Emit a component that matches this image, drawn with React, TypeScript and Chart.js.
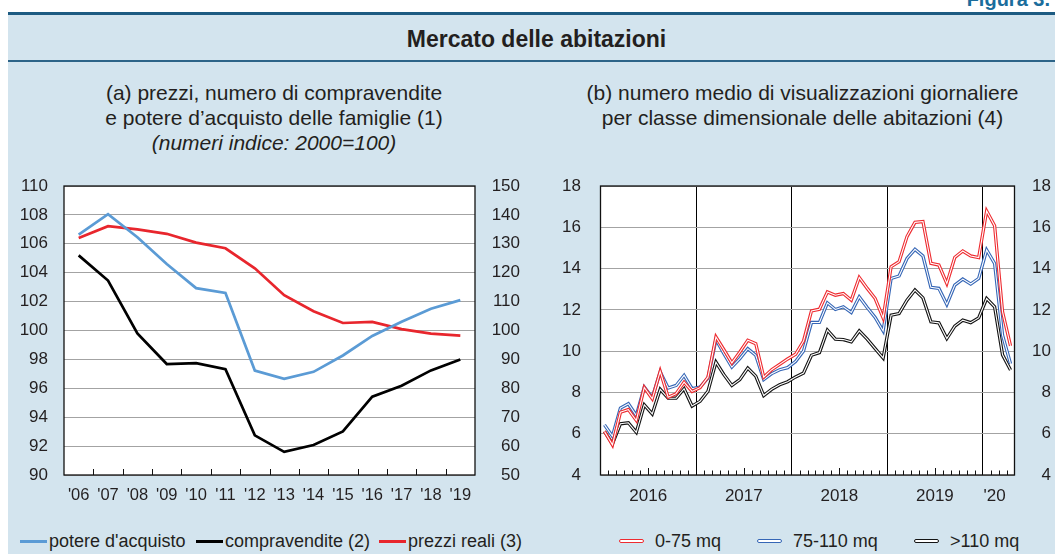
import React, { useEffect, useRef } from 'react';
import { Chart, registerables } from 'chart.js';

Chart.register(...registerables);

const FONT = "'Liberation Sans', Arial, Helvetica, sans-serif";
const TXT = '#231f20';

// ---------- Panel (a) ----------
const yearsA = ["'06", "'07", "'08", "'09", "'10", "'11", "'12", "'13", "'14", "'15", "'16", "'17", "'18", "'19"];
const potereAcquisto = [106.64, 108.05, 106.45, 104.6, 102.93, 102.6, 97.23, 96.65, 97.14, 98.27, 99.62, 100.6, 101.5, 102.1];
const compravendite = [126.0, 117.3, 99.0, 88.4, 88.7, 86.6, 63.7, 58.0, 60.4, 65.1, 77.1, 80.9, 86.2, 90.0];
const prezziReali = [106.4, 107.22, 107.0, 106.69, 106.08, 105.69, 104.3, 102.44, 101.33, 100.52, 100.59, 100.1, 99.78, 99.64];
const yTicksA = [90, 92, 94, 96, 98, 100, 102, 104, 106, 108, 110];
const y1TicksA = [50, 60, 70, 80, 90, 100, 110, 120, 130, 140, 150];

// ---------- Panel (b) ----------
const yearLabelsB = ['2016', '2017', '2018', '2019', "'20"];
const monthsPerYearB = [12, 12, 12, 12, 4];
const mq0_75 = [
  6.11, 5.46, 7.04, 7.17, 6.64, 8.24, 7.69, 9.02, 7.77, 7.94, 8.5, 8.05,
  8.23, 8.74, 10.69, 10.07, 9.43, 9.96, 10.53, 10.36, 8.74, 9.1, 9.36, 9.62,
  9.85, 10.49, 11.95, 12.03, 12.87, 12.71, 12.79, 12.47, 13.57, 13.04, 12.55, 11.61,
  14.09, 14.33, 15.55, 16.24, 16.28, 14.25, 14.17, 13.28, 14.54, 14.85, 14.61, 14.53,
  16.79, 16.08, 11.9, 10.25,
];
const mq75_110 = [
  6.43, 5.88, 7.24, 7.45, 6.88, 8.26, 7.76, 8.99, 8.21, 8.34, 8.83, 8.18,
  8.26, 8.7, 10.57, 9.88, 9.23, 9.64, 10.12, 9.8, 8.62, 8.91, 9.1, 9.2,
  9.5, 10.01, 11.39, 11.39, 12.34, 12.02, 12.15, 11.87, 12.63, 12.11, 11.63, 10.98,
  13.52, 13.64, 14.49, 14.93, 14.61, 13.09, 13.04, 12.26, 13.2, 13.49, 13.25, 13.52,
  14.9, 14.25, 10.77, 9.39,
];
const mq110 = [
  6.11, 5.51, 6.48, 6.53, 6.07, 7.4, 6.96, 8.15, 7.72, 7.72, 8.18, 7.34,
  7.57, 8.06, 9.47, 8.86, 8.34, 8.62, 9.18, 8.79, 7.85, 8.15, 8.37, 8.52,
  8.75, 8.94, 9.8, 9.93, 11.02, 10.58, 10.56, 10.45, 10.98, 10.58, 10.12, 9.67,
  11.74, 11.82, 12.47, 12.96, 12.58, 11.42, 11.37, 10.61, 11.21, 11.5, 11.38, 11.61,
  12.55, 12.15, 9.82, 9.09,
];
const yTicksB = [4, 6, 8, 10, 12, 14, 16, 18];

const tickFont = { family: FONT, size: 17 };

function makeFramePlugin(getMarks: (chart: any) => { x: number; len: number }[]) {
  return {
    id: 'frameAndMarks',
    beforeDraw(chart: any) {
      const { ctx, chartArea: a } = chart;
      ctx.save();
      ctx.fillStyle = '#ffffff';
      ctx.fillRect(a.left, a.top, a.right - a.left, a.bottom - a.top);
      ctx.restore();
    },
    afterDraw(chart: any) {
      const { ctx, chartArea: a } = chart;
      ctx.save();
      ctx.strokeStyle = '#111';
      ctx.lineWidth = 1;
      getMarks(chart).forEach((m) => {
        const x = Math.round(m.x) + 0.5;
        ctx.beginPath();
        ctx.moveTo(x, a.bottom);
        ctx.lineTo(x, a.bottom - m.len);
        ctx.stroke();
      });
      ctx.lineWidth = 1.3;
      ctx.strokeRect(a.left, a.top, a.right - a.left, a.bottom - a.top);
      ctx.restore();
    },
  };
}

// vertical axis: fixed width, no extra label padding in the layout
const fixY = (w: number) => (s: any) => {
  s.width = w;
  s.paddingTop = 0;
  s.paddingBottom = 0;
};
const fixX = (h: number) => (s: any) => {
  s.height = h;
  s.paddingLeft = 0;
  s.paddingRight = 0;
};
// gap between labels and plot via invisible tick marks
const gapGrid = (len: number) => ({ display: true, drawOnChartArea: false, drawTicks: true, tickLength: len, tickColor: 'rgba(0,0,0,0)' });

function ChartA() {
  const ref = useRef<HTMLCanvasElement>(null);
  useEffect(() => {
    if (!ref.current) return;
    const plugin = makeFramePlugin((chart) => {
      const x = chart.scales.x;
      const marks = [];
      for (let i = 1; i < yearsA.length; i++) marks.push({ x: x.getPixelForValue(i - 0.5), len: 6 });
      return marks;
    });
    const chart = new Chart(ref.current, {
      type: 'line',
      data: {
        labels: yearsA,
        datasets: [
          { label: "potere d'acquisto", data: potereAcquisto, borderColor: '#5b9bd5', borderWidth: 2.7, yAxisID: 'y', order: 0 },
          { label: 'compravendite (2)', data: compravendite, borderColor: '#000000', borderWidth: 2.7, yAxisID: 'y1', order: 2 },
          { label: 'prezzi reali (3)', data: prezziReali, borderColor: '#e8262d', borderWidth: 2.7, yAxisID: 'y', order: 1 },
        ],
      },
      options: {
        responsive: false,
        animation: false,
        devicePixelRatio: 1,
        layout: { padding: { top: 20, right: 0, bottom: 0, left: 0 } },
        elements: { point: { radius: 0 }, line: { tension: 0 } },
        plugins: { legend: { display: false }, tooltip: { enabled: false } },
        scales: {
          x: {
            type: 'category',
            offset: true,
            grid: { display: false, drawTicks: false },
            border: { display: false },
            ticks: { padding: 11, font: { family: FONT, size: 16.5 }, color: TXT, autoSkip: false, maxRotation: 0, minRotation: 0 },
            afterFit: fixX(31),
          },
          y: {
            position: 'left',
            min: 90,
            max: 110,
            afterBuildTicks: (s: any) => { s.ticks = yTicksA.map((v) => ({ value: v })); },
            grid: { color: '#a3a3a3', lineWidth: 1, drawTicks: true, tickLength: 16, tickColor: 'rgba(0,0,0,0)' },
            border: { display: false },
            ticks: { padding: 0, font: tickFont, color: TXT },
            afterFit: fixY(64),
          },
          y1: {
            position: 'right',
            min: 50,
            max: 150,
            afterBuildTicks: (s: any) => { s.ticks = y1TicksA.map((v) => ({ value: v })); },
            grid: gapGrid(0),
            border: { display: false },
            ticks: { padding: 0, crossAlign: 'far', font: tickFont, color: TXT },
            afterFit: fixY(45),
          },
        },
      } as any,
      plugins: [plugin],
    });
    return () => chart.destroy();
  }, []);
  return <canvas ref={ref} width={520} height={340} style={{ position: 'absolute', left: 0, top: 166, width: 520, height: 340 }} />;
}

function ChartB() {
  const ref = useRef<HTMLCanvasElement>(null);
  useEffect(() => {
    if (!ref.current) return;
    const total = monthsPerYearB.reduce((a, b) => a + b, 0);
    const boundaries: number[] = [];
    const labelPos: { v: number; t: string }[] = [];
    let acc = 0;
    monthsPerYearB.forEach((n, k) => {
      labelPos.push({ v: acc + n / 2 - (n < 12 ? 0.5 : 0), t: yearLabelsB[k] });
      acc += n;
      if (acc < total) boundaries.push(acc);
    });
    const toXY = (arr: number[]) => arr.map((v, i) => ({ x: i + 0.5, y: v }));
    const plugin = makeFramePlugin((chart) => {
      const x = chart.scales.x;
      const marks = [];
      for (let m = 1; m < total; m++) {
        if (boundaries.includes(m)) continue;
        marks.push({ x: x.getPixelForValue(m), len: m % 12 === 6 ? 7 : 4.5 });
      }
      return marks;
    });
    const pair = (label: string, data: number[], color: string, order: number) => [
      { label, data: toXY(data), borderColor: color, borderWidth: 3.3, order: order + 1 },
      { label: label + ' (interno)', data: toXY(data), borderColor: '#ffffff', borderWidth: 1.1, order },
    ];
    const chart = new Chart(ref.current, {
      type: 'line',
      data: {
        datasets: [
          ...pair('0-75 mq', mq0_75, '#ee2b30', 0),
          ...pair('75-110 mq', mq75_110, '#3566b6', 2),
          ...pair('>110 mq', mq110, '#141414', 4),
        ],
      },
      options: {
        responsive: false,
        animation: false,
        devicePixelRatio: 1,
        layout: { padding: { top: 20, right: 4, bottom: 0, left: 0 } },
        elements: { point: { radius: 0 }, line: { tension: 0 } },
        plugins: { legend: { display: false }, tooltip: { enabled: false } },
        scales: {
          x: {
            type: 'linear',
            min: 0,
            max: total,
            afterBuildTicks: (s: any) => {
              const vals = [0, ...boundaries, total, ...labelPos.map((l) => l.v)].sort((a, b) => a - b);
              s.ticks = vals.map((v) => ({ value: v }));
            },
            grid: {
              drawTicks: false,
              lineWidth: 1,
              color: (ctx: any) => (ctx.tick && boundaries.includes(ctx.tick.value) ? '#000000' : 'rgba(0,0,0,0)'),
            },
            border: { display: false },
            ticks: {
              padding: 11,
              font: tickFont,
              color: TXT,
              autoSkip: false,
              maxRotation: 0,
              minRotation: 0,
              callback: (v: any) => {
                const f = labelPos.find((l) => l.v === v);
                return f ? f.t : '';
              },
            },
            afterFit: fixX(31),
          },
          y: {
            position: 'left',
            min: 4,
            max: 18,
            afterBuildTicks: (s: any) => { s.ticks = yTicksB.map((v) => ({ value: v })); },
            grid: { color: '#a3a3a3', lineWidth: 1, drawTicks: true, tickLength: 19.5, tickColor: 'rgba(0,0,0,0)' },
            border: { display: false },
            ticks: { padding: 0, font: tickFont, color: TXT },
            afterFit: fixY(70.5),
          },
          y1: {
            position: 'right',
            min: 4,
            max: 18,
            afterBuildTicks: (s: any) => { s.ticks = yTicksB.map((v) => ({ value: v })); },
            grid: gapGrid(0),
            border: { display: false },
            ticks: { padding: 0, crossAlign: 'far', font: tickFont, color: TXT },
            afterFit: fixY(36.5),
          },
        },
      } as any,
      plugins: [plugin],
    });
    return () => chart.destroy();
  }, []);
  return <canvas ref={ref} width={525} height={340} style={{ position: 'absolute', left: 530, top: 166, width: 525, height: 340 }} />;
}

function LineKey({ left, color, text }: { left: number; color: string; text: string }) {
  return (
    <div style={{ position: 'absolute', left, top: 529, height: 24, display: 'flex', alignItems: 'center', whiteSpace: 'nowrap' }}>
      <span style={{ display: 'inline-block', width: 27, height: 3, background: color }} />
      <span style={{ marginLeft: 2, fontSize: 18, color: TXT, lineHeight: '24px' }}>{text}</span>
    </div>
  );
}

function DoubleKey({ left, color, text }: { left: number; color: string; text: string }) {
  return (
    <div style={{ position: 'absolute', left, top: 529, height: 24, display: 'flex', alignItems: 'center', whiteSpace: 'nowrap' }}>
      <span style={{ display: 'inline-block', width: 23, height: 2, background: '#fff', border: `1.5px solid ${color}`, borderRadius: 3 }} />
      <span style={{ marginLeft: 11, fontSize: 18, color: TXT, lineHeight: '24px' }}>{text}</span>
    </div>
  );
}

export default function App() {
  useEffect(() => {
    document.body.style.margin = '0';
  }, []);
  return (
    <div style={{ position: 'absolute', left: 0, top: 0, width: 1055, height: 554, overflow: 'hidden', background: '#ffffff', fontFamily: FONT, color: TXT }}>
      <div style={{ position: 'absolute', left: 8, top: 12, width: 1047, height: 542, background: '#d3e4ee' }} />
      <div style={{ position: 'absolute', left: 8, top: 12, width: 1047, height: 3, background: '#1d5b82' }} />
      <div style={{ position: 'absolute', left: 8, top: 60, width: 1047, height: 2, background: '#2d6488' }} />
      <div style={{ position: 'absolute', right: 5, top: -11, fontSize: 20, lineHeight: '20px', fontWeight: 'bold', color: '#1b6d9c', whiteSpace: 'nowrap' }}>Figura 3.</div>
      <div style={{ position: 'absolute', left: 0, top: 26, width: 1073, textAlign: 'center', fontSize: 23, lineHeight: '26px', fontWeight: 'bold', whiteSpace: 'nowrap' }}>
        Mercato delle abitazioni
      </div>
      <div style={{ position: 'absolute', left: 0, top: 80, width: 548, textAlign: 'center', fontSize: 21, lineHeight: '25px', whiteSpace: 'nowrap' }}>
        <div>(a) prezzi, numero di compravendite</div>
        <div>e potere d’acquisto delle famiglie (1)</div>
        <div style={{ fontStyle: 'italic' }}>(numeri indice: 2000=100)</div>
      </div>
      <div style={{ position: 'absolute', left: 555, top: 80, width: 495, textAlign: 'center', fontSize: 21, lineHeight: '25px', whiteSpace: 'nowrap' }}>
        <div>(b) numero medio di visualizzazioni giornaliere</div>
        <div>per classe dimensionale delle abitazioni (4)</div>
      </div>
      <ChartA />
      <ChartB />
      <LineKey left={20} color="#5b9bd5" text="potere d'acquisto" />
      <LineKey left={196} color="#000000" text="compravendite (2)" />
      <LineKey left={379} color="#e8262d" text="prezzi reali (3)" />
      <DoubleKey left={619} color="#ee2b30" text="0-75 mq" />
      <DoubleKey left={757} color="#3566b6" text="75-110 mq" />
      <DoubleKey left={914} color="#141414" text=">110 mq" />
    </div>
  );
}
